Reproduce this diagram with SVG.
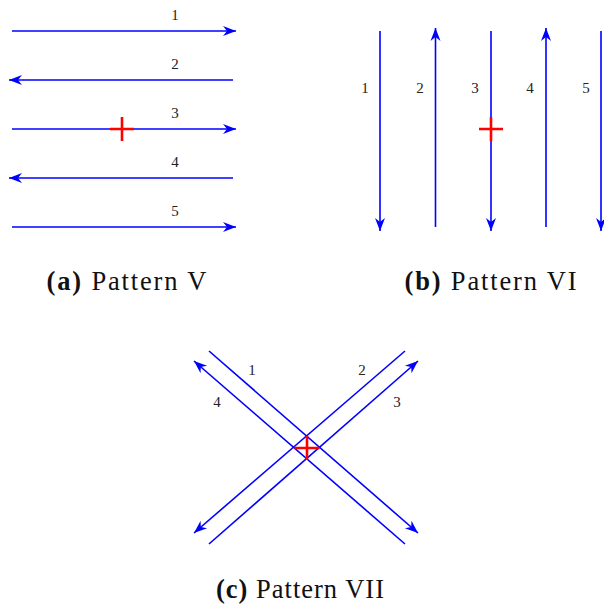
<svg xmlns="http://www.w3.org/2000/svg" width="604" height="608" viewBox="0 0 604 608">
<style>
.ln{fill:none;stroke:#0000ff;stroke-width:1.6}
.arr{marker-end:url(#ah)}
.cr{fill:none;stroke:#ff0000;stroke-width:2.6}
.lb{font-family:"Liberation Serif",serif;font-size:15px;fill:#222;text-anchor:middle}
.cap{font-family:"Liberation Serif",serif;font-size:26.5px;fill:#111;text-anchor:middle}
.b{font-weight:bold}
</style>
<defs>
<marker id="ah" markerUnits="userSpaceOnUse" viewBox="-14 -6 16 12" markerWidth="16" markerHeight="12" refX="0" refY="0" orient="auto">
<path d="M0,0 L-13,-5 L-9,0 L-13,5 Z" fill="#0000ff"/>
</marker>
</defs>
<g id="connectors">
<path class="ln arr" d="M12,31 H236"/>
<path class="ln arr" d="M233,80 H9"/>
<path class="ln arr" d="M12,129 H236"/>
<path class="ln arr" d="M233,178 H9"/>
<path class="ln arr" d="M12,227 H236"/>
<path class="ln arr" d="M380,31 V231"/>
<path class="ln arr" d="M435.5,227 V28"/>
<path class="ln arr" d="M491,31 V231"/>
<path class="ln arr" d="M546,227 V28"/>
<path class="ln arr" d="M601,31 V231"/>
<path class="ln arr" d="M209,351 L418,533"/>
<path class="ln arr" d="M405,544 L194,361"/>
<path class="ln arr" d="M209,544 L418,361"/>
<path class="ln arr" d="M405,351 L194,533"/>
</g>
<g id="cross-a"><path class="cr" d="M110,129 H134 M122,117 V141"/></g>
<g id="cross-b"><path class="cr" d="M479,129 H503 M491,117 V141"/></g>
<g id="cross-c"><path class="cr" d="M294.5,448 H319.5 M307,436 V460"/></g>
<g id="labels-a">
<text class="lb" x="175" y="20">1</text>
<text class="lb" x="175" y="69">2</text>
<text class="lb" x="175" y="118">3</text>
<text class="lb" x="175" y="167">4</text>
<text class="lb" x="175" y="216">5</text>
</g>
<g id="labels-b">
<text class="lb" x="365" y="93">1</text>
<text class="lb" x="420" y="93">2</text>
<text class="lb" x="475" y="93">3</text>
<text class="lb" x="530" y="93">4</text>
<text class="lb" x="586" y="93">5</text>
</g>
<g id="labels-c">
<text class="lb" x="252" y="375">1</text>
<text class="lb" x="362" y="375">2</text>
<text class="lb" x="397" y="407">3</text>
<text class="lb" x="217" y="407">4</text>
</g>
<g id="captions">
<text class="cap" x="126.5" y="290" textLength="160" lengthAdjust="spacing"><tspan class="b">(a)</tspan> Pattern V</text>
<text class="cap" x="490.5" y="290" textLength="172" lengthAdjust="spacing"><tspan class="b">(b)</tspan> Pattern VI</text>
<text class="cap" x="300" y="598" textLength="168" lengthAdjust="spacing"><tspan class="b">(c)</tspan> Pattern VII</text>
</g>
</svg>
